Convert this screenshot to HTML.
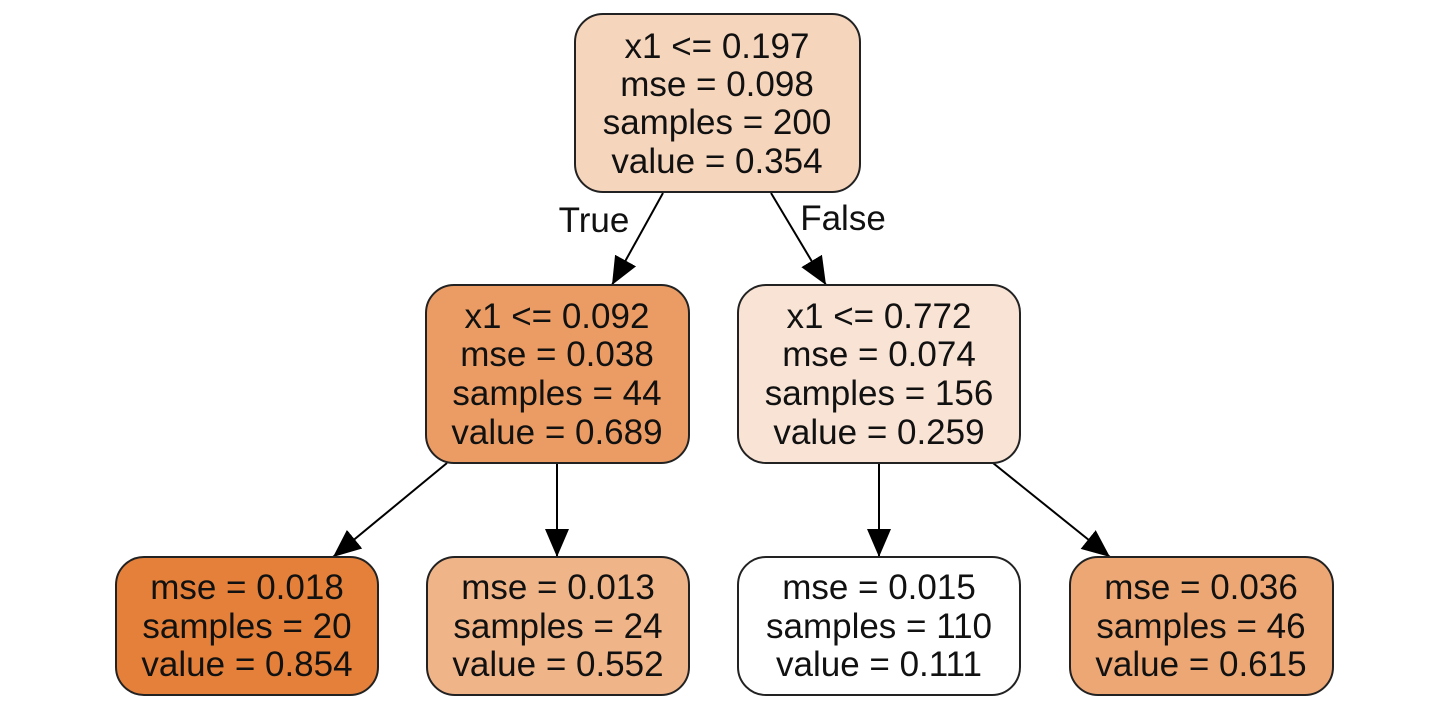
<!DOCTYPE html>
<html><head><style>
html,body{margin:0;padding:0;background:#fff;}
svg text{font-family:"Liberation Sans",sans-serif;font-size:35px;fill:#111;text-anchor:middle;}
</style></head><body>
<svg width="1456" height="716" viewBox="0 0 1456 716" xmlns="http://www.w3.org/2000/svg">
<defs>
<marker id="b" viewBox="0 0 28 28" refX="28" refY="14" markerWidth="28" markerHeight="28" orient="auto" markerUnits="userSpaceOnUse"><path d="M0,2 L28,14 L0,26 z" fill="#000"/></marker></defs>
<g stroke="#000" stroke-width="2" fill="none">
<line x1="663" y1="193" x2="612" y2="285" marker-end="url(#b)"/>
<line x1="771" y1="193" x2="826" y2="285" marker-end="url(#b)"/>
<line x1="447" y1="463" x2="333" y2="557" marker-end="url(#b)"/>
<line x1="557" y1="463" x2="557" y2="557" marker-end="url(#b)"/>
<line x1="879" y1="463" x2="879" y2="557" marker-end="url(#b)"/>
<line x1="993" y1="463" x2="1110" y2="557" marker-end="url(#b)"/>
</g>
<g stroke="#222" stroke-width="2">
<rect x="575" y="14" width="285" height="178" rx="28" fill="#f6d5bd"/>
<rect x="426" y="285" width="263" height="178" rx="28" fill="#eb9c64"/>
<rect x="738" y="285" width="282" height="178" rx="28" fill="#f9e3d4"/>
<rect x="116" y="557" width="262" height="138" rx="28" fill="#e5803a"/>
<rect x="427" y="557" width="262" height="138" rx="28" fill="#f0b489"/>
<rect x="738" y="557" width="282" height="138" rx="28" fill="#ffffff"/>
<rect x="1070" y="557" width="263" height="138" rx="28" fill="#eda774"/>
</g>
<text x="717" y="58">x1 &lt;= 0.197</text>
<text x="717" y="96">mse = 0.098</text>
<text x="717" y="134">samples = 200</text>
<text x="717" y="173">value = 0.354</text>
<text x="557" y="328">x1 &lt;= 0.092</text>
<text x="557" y="366">mse = 0.038</text>
<text x="557" y="405">samples = 44</text>
<text x="557" y="444">value = 0.689</text>
<text x="879" y="328">x1 &lt;= 0.772</text>
<text x="879" y="366">mse = 0.074</text>
<text x="879" y="405">samples = 156</text>
<text x="879" y="444">value = 0.259</text>
<text x="247" y="599">mse = 0.018</text>
<text x="247" y="638">samples = 20</text>
<text x="247" y="676">value = 0.854</text>
<text x="558" y="599">mse = 0.013</text>
<text x="558" y="638">samples = 24</text>
<text x="558" y="676">value = 0.552</text>
<text x="879" y="599">mse = 0.015</text>
<text x="879" y="638">samples = 110</text>
<text x="879" y="676">value = 0.111</text>
<text x="1201" y="599">mse = 0.036</text>
<text x="1201" y="638">samples = 46</text>
<text x="1201" y="676">value = 0.615</text>
<text x="594" y="232">True</text>
<text x="843" y="230">False</text>
</svg>
</body></html>
